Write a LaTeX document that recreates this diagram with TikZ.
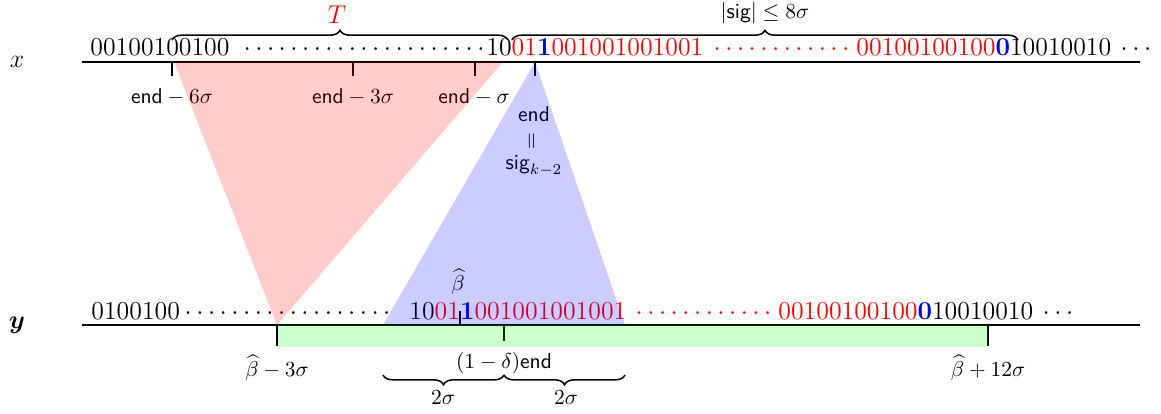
\documentclass[tikz,border=0pt]{standalone}
\usepackage{amsmath}
\usetikzlibrary{decorations.pathreplacing}
\newcommand\dotrow[1]{\foreach \i in {1,...,#1}{\makebox[5.44pt]{$\cdot$}}}
\begin{document}
\begin{tikzpicture}[x=0.465pt,y=-0.465pt,
  str/.style={anchor=base west,inner sep=0pt,font=\large},
  lbl/.style={inner sep=0pt,font=\normalsize},
  axis/.style={line width=0.9pt},
  tickmark/.style={line width=0.9pt},
  brc/.style={decorate,decoration={brace,amplitude=4.5pt},line width=0.7pt}]
\useasboundingbox (0,0) rectangle (1161,413);

% row labels
\node[lbl,font=\large] (lx) at (17,62) {$x$};
\node[lbl,font=\large] (ly) at (17,325) {$\boldsymbol{y}$};

% x string
\node[str] (xa) at (90,55) {00100100100};
\node[str] (xb) at (241,55) {\dotrow{21}};
\node[str] (xc) at (486,55) {10\textcolor{red}{01}\textcolor{blue}{\textbf{1}}\textcolor{red}{001001001001}};
\node[str,red] (xd) at (711,55) {\dotrow{12}};
\node[str] (xe) at (856,55) {\textcolor{red}{00100100100}\textcolor{blue}{\textbf{0}}10010010};
\node[str] (xf) at (1118,55) {\dotrow{3}};

% y string
\node[str] (ya) at (91,319) {0100100};
\node[str] (yb) at (182,319) {\dotrow{18}};
\node[str] (yc) at (409,319) {10\textcolor{red}{01}\textcolor{blue}{\textbf{1}}\textcolor{red}{001001001001}};
\node[str,red] (yd) at (633,319) {\dotrow{12}};
\node[str] (ye) at (778,319) {\textcolor{red}{00100100100}\textcolor{blue}{\textbf{0}}10010010};
\node[str] (yf) at (1040,319) {\dotrow{3}};

% axes
\draw[axis] (82,62) -- (1140,62);
\draw[axis] (82,325) -- (1140,325);

% ticks on x
\draw[tickmark] (172,62) -- (172,76);
\draw[tickmark] (353,62) -- (353,76);
\draw[tickmark] (475,62) -- (475,76);
\draw[tickmark] (535,62) -- (535,76);

% ticks on y
\draw[tickmark] (277,325) -- (277,346);
\draw[tickmark] (504,325) -- (504,341);
\draw[tickmark] (988,325) -- (988,346);
\draw[tickmark] (460,325) -- (460,311);

% braces on top
\draw[brc] (172,40) -- (508,40);
\draw[brc] (512,40) -- (1018,40);
\node[lbl,font=\large,red] (tl) at (337,15) {$T$};
\node[lbl] (sl) at (765,13) {$|\textsf{sig}|\le 8\sigma$};

% labels under x
\node[lbl] (e6) at (172,97) {$\textsf{end}-6\sigma$};
\node[lbl] (e3) at (353,97) {$\textsf{end}-3\sigma$};
\node[lbl] (e1) at (474,97) {$\textsf{end}-\sigma$};
\node[lbl] (en) at (534,114) {\textsf{end}};
\node[lbl,rotate=90] (eq) at (533,141) {$=$};
\node[lbl] (sg) at (534,166) {$\textsf{sig}_{k-2}$};

% labels on y
\node[lbl] (bh) at (458,282) {$\widehat{\beta}$};
\node[lbl] (b3) at (277,368) {$\widehat{\beta}-3\sigma$};
\node[lbl] (de) at (504,363) {$(1-\delta)\textsf{end}$};
\node[lbl] (b12) at (988,368) {$\widehat{\beta}+12\sigma$};

% bottom braces
\draw[brc] (504,375) -- (383,375);
\draw[brc] (625,375) -- (504,375);
\node[lbl] (s1) at (443,398) {$2\sigma$};
\node[lbl] (s2) at (566,398) {$2\sigma$};

% translucent regions
\fill[red,fill opacity=0.2] (174,62) -- (503,62) -- (277,325) -- cycle;
\fill[blue,fill opacity=0.2] (535,62) -- (625,325) -- (383,325) -- cycle;
\fill[green,fill opacity=0.2] (278,325) rectangle (988,347);
\end{tikzpicture}
\end{document}
